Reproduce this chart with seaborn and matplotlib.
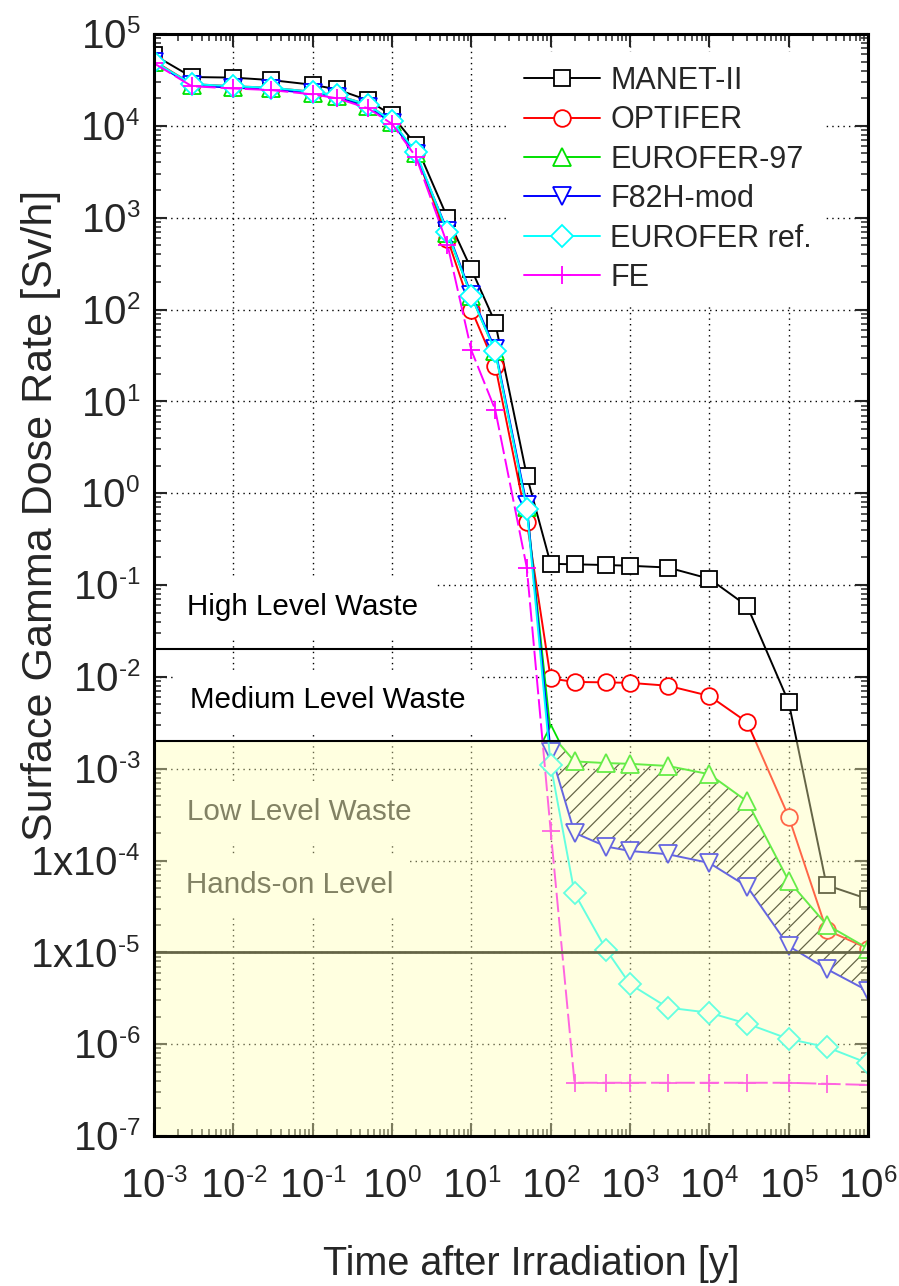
import matplotlib
matplotlib.use("Agg")
import numpy as np
import pandas as pd
import matplotlib.pyplot as plt
import seaborn as sns
from matplotlib import font_manager as fm
from matplotlib.ticker import LogLocator, FuncFormatter, NullFormatter

# ---- data: surface gamma dose rate [Sv/h] vs. time after irradiation [y]
time_y = [1e-3, 3e-3, 1e-2, 3e-2, 0.1, 0.2, 0.5, 1, 2, 5, 10, 20, 50,
          100, 200, 500, 1e3, 3e3, 1e4, 3e4, 1e5, 3e5, 1e6]

manet_ii = [5.9e4, 3.4e4, 3.35e4, 3.15e4, 2.8e4, 2.5e4, 1.9e4, 1.3e4, 6.2e3, 1.0e3, 275, 72, 1.55,
            0.17, 0.168, 0.165, 0.162, 0.155, 0.117, 0.059, 5.3e-3, 5.4e-5, 3.8e-5]
optifer = [5.1e4, 2.85e4, 2.7e4, 2.6e4, 2.35e4, 2.15e4, 1.7e4, 1.12e4, 5.0e3, 590, 100, 24.5, 0.49,
           9.6e-3, 8.8e-3, 8.7e-3, 8.6e-3, 8.0e-3, 6.2e-3, 3.2e-3, 3.0e-4, 1.75e-5, 1.1e-5]
eurofer_97 = [5.0e4, 2.8e4, 2.65e4, 2.55e4, 2.3e4, 2.1e4, 1.65e4, 1.1e4, 5.0e3, 680, 140, 35, 0.70,
              2.4e-3, 1.2e-3, 1.15e-3, 1.13e-3, 1.07e-3, 8.7e-4, 4.4e-4, 6.0e-5, 2.0e-5, 1.1e-5]
f82h_mod = [4.9e4, 2.75e4, 2.6e4, 2.5e4, 2.25e4, 2.05e4, 1.6e4, 1.08e4, 4.9e3, 720, 145, 37, 0.74,
            1.5e-3, 2.0e-4, 1.42e-4, 1.27e-4, 1.17e-4, 9.4e-5, 5.2e-5, 1.17e-5, 6.6e-6, 3.8e-6]
eurofer_ref = [5.0e4, 2.85e4, 2.7e4, 2.6e4, 2.35e4, 2.15e4, 1.7e4, 1.12e4, 5.2e3, 690, 140, 35, 0.68,
               1.1e-3, 4.4e-5, 1.07e-5, 4.5e-6, 2.5e-6, 2.2e-6, 1.67e-6, 1.14e-6, 0.93e-6, 6.2e-7]
fe = [4.8e4, 2.7e4, 2.55e4, 2.45e4, 2.2e4, 2.0e4, 1.55e4, 1.05e4, 4.6e3, 510, 36, 8.1, 0.155,
      2.1e-4, 3.8e-7, 3.8e-7, 3.8e-7, 3.8e-7, 3.8e-7, 3.8e-7, 3.8e-7, 3.7e-7, 3.6e-7]

series_names = ["MANET-II", "OPTIFER", "EUROFER-97", "F82H-mod", "EUROFER ref.", "FE"]
series_values = [manet_ii, optifer, eurofer_97, f82h_mod, eurofer_ref, fe]

# waste classification limits [Sv/h]
high_level_limit = 2e-2
medium_level_limit = 2e-3
hands_on_limit = 1e-5
zone_labels = ["High Level Waste", "Medium Level Waste", "Low Level Waste", "Hands-on Level"]

x_ticks = [1e-3, 1e-2, 1e-1, 1e0, 1e1, 1e2, 1e3, 1e4, 1e5, 1e6]
y_ticks = [1e-7, 1e-6, 1e-5, 1e-4, 1e-3, 1e-2, 1e-1, 1e0, 1e1, 1e2, 1e3, 1e4, 1e5]

# ---- style
sns.set_style("white")
plt.rcParams["font.family"] = ["Liberation Sans", "DejaVu Sans"]
plt.rcParams["mathtext.fontset"] = "custom"
plt.rcParams["mathtext.rm"] = "Liberation Sans"
plt.rcParams["mathtext.it"] = "Liberation Sans:italic"
plt.rcParams["mathtext.bf"] = "Liberation Sans:bold"
plt.rcParams["mathtext.default"] = "regular"
plt.rcParams["hatch.linewidth"] = 0.9

# smaller exponents in the power-of-ten labels
try:
    import matplotlib._mathtext as _mt
    _mt.SHRINK_FACTOR = 0.6
except Exception:
    pass

legend_prop = fm.FontProperties(family=["Liberation Sans", "DejaVu Sans"], size=22)

styles = {
    "MANET-II":     dict(color="black",   marker="s", markersize=11),
    "OPTIFER":      dict(color="#ff0000", marker="o", markersize=12),
    "EUROFER-97":   dict(color="#00e000", marker="^", markersize=13),
    "F82H-mod":     dict(color="#0000ff", marker="v", markersize=13),
    "EUROFER ref.": dict(color="#00ffff", marker="D", markersize=11),
    "FE":           dict(color="#ff00ff", marker="+", markersize=13, linestyle=(0, (10, 2.5))),
}

fig = plt.figure(figsize=(8.99, 12.86), dpi=100)
ax = fig.add_axes([154 / 899, 1 - 1136 / 1286, 714 / 899, 1102 / 1286])
ax.set_xscale("log")
ax.set_yscale("log")

for name, vals in zip(series_names, series_values):
    df = pd.DataFrame({"time": time_y, "rate": vals})
    st = dict(styles[name])
    color = st.pop("color")
    sns.lineplot(data=df, x="time", y="rate", ax=ax, estimator=None, sort=False,
                 color=color, markeredgecolor=color, markerfacecolor="white",
                 markeredgewidth=1.3, linewidth=1.4, label=name, zorder=3, **st)

# band between EUROFER-97 and F82H-mod after 100 y
t_arr = np.array(time_y)
mask = t_arr >= 100
ax.fill_between(t_arr[mask], np.array(f82h_mod)[mask], np.array(eurofer_97)[mask],
                facecolor="none", edgecolor="black", hatch="//", linewidth=0, zorder=2.2)

# classification limits
ax.axhline(high_level_limit, color="black", lw=1.5, zorder=6)
ax.axhline(medium_level_limit, color="black", lw=1.5, zorder=6)
ax.axhline(hands_on_limit, color="black", lw=2.0, zorder=3.5)

# pale yellow wash over the low-level region
ax.axhspan(1e-9, medium_level_limit, facecolor=(1.0, 1.0, 0.7), alpha=0.4, lw=0, zorder=4)

# zone labels
box = dict(facecolor="white", edgecolor="none", pad=12)
zone_pos = [(0.046, 0.473), (0.050, 0.388), (0.046, 0.287), (0.045, 0.2205)]
zone_colors = ["black", "black", "#303030", "#303030"]
for label, (zx, zy), zc in zip(zone_labels, zone_pos, zone_colors):
    ax.text(zx, zy, label, transform=ax.transAxes, fontsize=21.3, va="baseline",
            color=zc, bbox=box, zorder=2.6)

# axes, ticks, grid
ax.set_xlim(1e-3, 1e6)
ax.set_ylim(1e-7, 1e5)
ax.set_xticks(x_ticks)
ax.set_yticks(y_ticks)
ax.xaxis.set_minor_locator(LogLocator(base=10, subs=np.arange(2, 10), numticks=50))
ax.yaxis.set_minor_locator(LogLocator(base=10, subs=np.arange(2, 10), numticks=50))
ax.xaxis.set_minor_formatter(NullFormatter())
ax.yaxis.set_minor_formatter(NullFormatter())


def exp_str(e):
    return ("\u2010%d" % -e) if e < 0 else "%d" % e


def fmt_x(v, pos):
    e = int(round(np.log10(v)))
    return r"$10^{%s}$" % exp_str(e)


def fmt_y(v, pos):
    e = int(round(np.log10(v)))
    if e in (-4, -5):
        return r"$1x10^{%s}$" % exp_str(e)
    return r"$10^{%s}$" % exp_str(e)


ax.xaxis.set_major_formatter(FuncFormatter(fmt_x))
ax.yaxis.set_major_formatter(FuncFormatter(fmt_y))

ax.tick_params(which="both", direction="in", top=True, right=True, bottom=True, left=True)
ax.tick_params(which="major", length=9.5, width=1.5, labelsize=29)
ax.tick_params(axis="x", which="major", pad=23)
ax.tick_params(axis="y", which="major", pad=10)
ax.tick_params(which="minor", length=4.8, width=1.1)

ax.grid(which="major", linestyle=(0, (1, 3)), color="black", linewidth=1.0)
ax.set_axisbelow(True)
for sp in ax.spines.values():
    sp.set_linewidth(2.2)
    sp.set_color("black")
    sp.set_zorder(10)

ax.set_xlabel("Time after Irradiation [y]", fontsize=28.5)
ax.set_ylabel("Surface Gamma Dose Rate [Sv/h]", fontsize=31)
ax.xaxis.set_label_coords(0.528, -0.099)
ax.yaxis.set_label_coords(-0.130, 0.5635)

handles, labels = ax.get_legend_handles_labels()
leg = ax.legend(handles, labels, loc="upper left",
                bbox_to_anchor=((510 - 154) / 714, 1 - (52 - 34) / 1102),
                borderaxespad=0, prop=legend_prop, numpoints=1, handlelength=2.5,
                handletextpad=0.33, labelspacing=0.31, borderpad=0.45,
                frameon=True, facecolor="white", edgecolor="none", framealpha=1,
                fancybox=False)
leg.set_zorder(7)
for ln in leg.get_lines():
    ln.set_linestyle("-")

fig.savefig("out.png", dpi=100)
